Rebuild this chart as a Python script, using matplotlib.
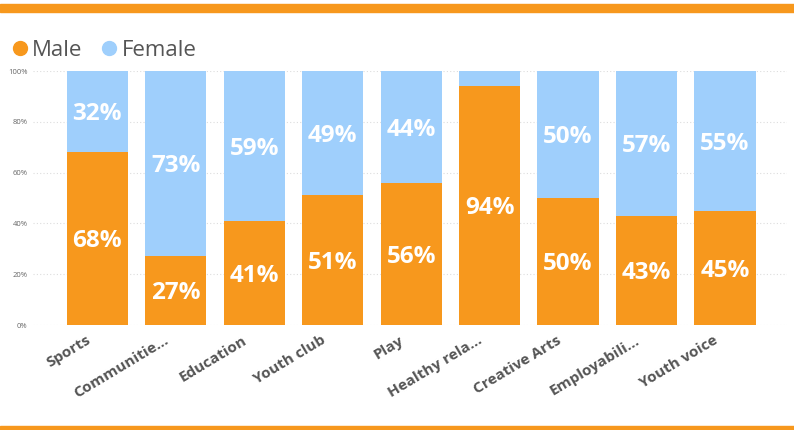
import matplotlib
matplotlib.use("Agg")
import matplotlib.pyplot as plt
from matplotlib.patches import Rectangle
from matplotlib.lines import Line2D
from matplotlib.ticker import FuncFormatter
from matplotlib.transforms import ScaledTranslation

categories = ["Sports", "Communitie...", "Education", "Youth club", "Play",
              "Healthy rela...", "Creative Arts", "Employabili...", "Youth voice"]
male = [68, 27, 41, 51, 56, 94, 50, 43, 45]
female = [32, 73, 59, 49, 44, 6, 50, 57, 55]
yticks = [0, 20, 40, 60, 80, 100]

ORANGE = "#F7981D"
BLUE = "#9FCFFC"
GREY = "#555555"

plt.rcParams["font.family"] = ["Open Sans", "DejaVu Sans"]

fig = plt.figure(figsize=(7.94, 4.30), dpi=100)
W, H = 794, 430
ax = fig.add_axes([33 / W, 105 / H, (787 - 33) / W, (325 - 71) / H])

x = list(range(len(categories)))
ax.bar(x, male, width=0.78, color=ORANGE, zorder=2)
ax.bar(x, female, width=0.78, bottom=male, color=BLUE, zorder=2)

for xi, m, f in zip(x, male, female):
    ax.annotate(f"{m}%", (xi, m / 2), xytext=(0, -2), textcoords="offset points",
                ha="center", va="center", color="white",
                fontsize=17.5, fontweight="bold", zorder=3)
    if f >= 10:
        ax.annotate(f"{f}%", (xi, m + f / 2), xytext=(0, -2), textcoords="offset points",
                    ha="center", va="center", color="white",
                    fontsize=17.5, fontweight="bold", zorder=3)

ax.set_xlim(-0.82, 8.79)
ax.set_ylim(0, 100)
ax.set_yticks(yticks)
ax.yaxis.set_major_formatter(FuncFormatter(lambda v, p: f"{int(v)}%"))
ax.tick_params(axis="y", length=0, labelsize=5.5, labelcolor="#666666", pad=4)
ax.grid(axis="y", color="#dddddd", linestyle=(0, (1, 2)), linewidth=0.8, zorder=0)

ax.set_xticks(x)
ax.set_xticklabels(categories, rotation=31, ha="right", rotation_mode="anchor",
                   fontsize=11, fontweight="bold", color=GREY)
ax.tick_params(axis="x", length=0, pad=6)
shift = ScaledTranslation(-12 / 100, 0, fig.dpi_scale_trans)
for lbl in ax.get_xticklabels():
    lbl.set_transform(lbl.get_transform() + shift)
for s in ax.spines.values():
    s.set_visible(False)

handles = [Line2D([], [], marker="o", linestyle="", markersize=10, color=ORANGE),
           Line2D([], [], marker="o", linestyle="", markersize=10, color=BLUE)]
fig.legend(handles, ["Male", "Female"], loc="upper left",
           bbox_to_anchor=(0 / W, 1 - 31 / H), frameon=False, ncol=2,
           fontsize=16, handletextpad=0.05, columnspacing=0.7,
           labelcolor=GREY, borderaxespad=0, handlelength=1.0)

fig.patches.append(Rectangle((0, 1 - 12 / H), 1, 8 / H, transform=fig.transFigure,
                             color=ORANGE, zorder=0))
fig.patches.append(Rectangle((0, 0), 1, 4 / H, transform=fig.transFigure,
                             color=ORANGE, zorder=0))

fig.savefig("out.png", dpi=100)
